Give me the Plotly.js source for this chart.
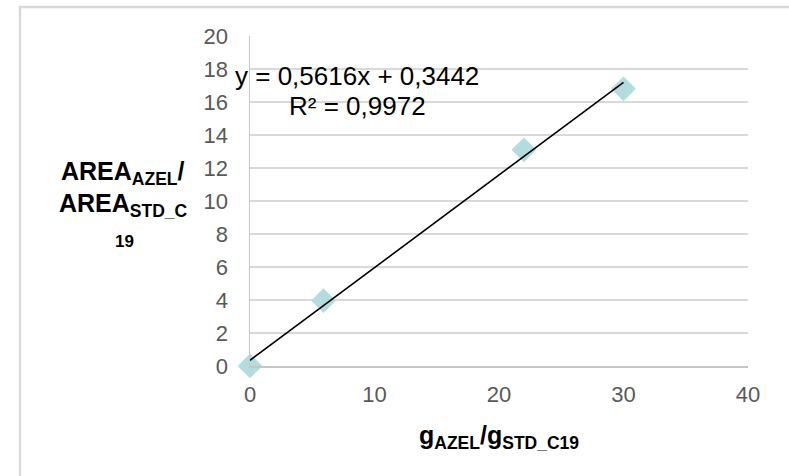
<!DOCTYPE html>
<html>
<head>
<meta charset="utf-8">
<script src="https://cdn.plot.ly/plotly-3.0.1.min.js"></script>
<style>html,body{margin:0;padding:0;background:#fff;}#chart{width:789px;height:476px;}</style>
</head>
<body>
<div id="chart"></div>
<script>
// Data
const ratioMass = [0, 5.9, 22, 30];          // gAZEL/gSTD_C19
const ratioArea = [0, 3.96, 13.1, 16.8];     // AREA_AZEL/AREA_STD_C19
const trendSlope = 0.5616;
const trendIntercept = 0.3442;
const trendR2 = 0.9972;
const trendXRange = [0, 30];
const xTickVals = [0, 10, 20, 30, 40];
const yTickVals = [0, 2, 4, 6, 8, 10, 12, 14, 16, 18, 20];

const fmt = v => String(v).replace('.', ',');
const trendY = trendXRange.map(x => trendSlope * x + trendIntercept);

const FONT = "Liberation Sans, Arial, sans-serif";
const L = 250, R = 41, T = 36, B = 110, W = 789, H = 476;
const pw = W - L - R, ph = H - T - B;
const px = x => (x - L) / pw;
const py = y => (H - B - y) / ph;

const traces = [
  {
    x: ratioMass, y: ratioArea, type: 'scatter', mode: 'markers',
    marker: {symbol: 'diamond', size: 19, color: '#b3dcdf', line: {width: 0}},
    cliponaxis: false, hoverinfo: 'skip'
  },
  {
    x: trendXRange, y: trendY, type: 'scatter', mode: 'lines',
    line: {color: '#000000', width: 1.6}, cliponaxis: false, hoverinfo: 'skip'
  }
];

const layout = {
  width: W, height: H,
  margin: {l: L, r: R, t: T, b: B, pad: 0},
  paper_bgcolor: '#ffffff', plot_bgcolor: '#ffffff',
  showlegend: false,
  font: {family: FONT, size: 22},
  xaxis: {
    range: [0, 40], tickvals: xTickVals, ticktext: xTickVals.map(String),
    showgrid: false, zeroline: false, showline: true, linecolor: '#c6c6c6', linewidth: 1.5,
    ticks: '', tickfont: {size: 22, color: '#595959', family: FONT},
    ticklabelstandoff: 8, fixedrange: true
  },
  yaxis: {
    range: [0, 20], tickvals: yTickVals, ticktext: yTickVals.map(String),
    showgrid: true, gridcolor: '#d9d9d9', gridwidth: 1.5,
    zeroline: false, showline: true, linecolor: '#c6c6c6', linewidth: 1.5,
    ticks: '', tickfont: {size: 22, color: '#595959', family: FONT},
    ticklabelstandoff: 16, fixedrange: true
  },
  shapes: [
    {type: 'rect', xref: 'paper', yref: 'paper',
     x0: px(20), x1: px(820), y0: py(520), y1: py(7),
     line: {color: '#d9d9d9', width: 2.5}, fillcolor: 'rgba(0,0,0,0)', layer: 'below'}
  ],
  annotations: [
    {xref: 'paper', yref: 'paper', x: px(357), y: py(76), xanchor: 'center', yanchor: 'middle',
     text: 'y = ' + fmt(trendSlope) + 'x + ' + fmt(trendIntercept), showarrow: false,
     font: {size: 26, color: '#000', family: FONT}},
    {xref: 'paper', yref: 'paper', x: px(357), y: py(106), xanchor: 'center', yanchor: 'middle',
     text: 'R² = ' + fmt(trendR2), showarrow: false,
     font: {size: 26, color: '#000', family: FONT}},
    {xref: 'paper', yref: 'paper', x: px(123), y: py(173), xanchor: 'center', yanchor: 'middle',
     text: '<b>AREA<sub>AZEL</sub>/</b>', showarrow: false,
     font: {size: 25, color: '#000', family: FONT}},
    {xref: 'paper', yref: 'paper', x: px(123), y: py(205), xanchor: 'center', yanchor: 'middle',
     text: '<b>AREA<sub>STD_C</sub></b>', showarrow: false,
     font: {size: 25, color: '#000', family: FONT}},
    {xref: 'paper', yref: 'paper', x: px(124), y: py(241), xanchor: 'center', yanchor: 'middle',
     text: '<b>19</b>', showarrow: false,
     font: {size: 17, color: '#000', family: FONT}},
    {xref: 'paper', yref: 'paper', x: px(499), y: py(437), xanchor: 'center', yanchor: 'middle',
     text: '<b>g<sub>AZEL</sub>/g<sub>STD_C19</sub></b>', showarrow: false,
     font: {size: 25, color: '#000', family: FONT}}
  ]
};

Plotly.newPlot('chart', traces, layout, {displayModeBar: false, staticPlot: true});
</script>
</body>
</html>
